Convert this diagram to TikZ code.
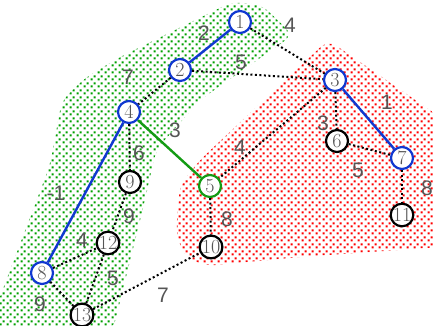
\documentclass[tikz,border=0pt]{standalone}
\usepackage{fontspec}
\newfontfamily\wfont{Liberation Sans}
\usetikzlibrary{patterns.meta}

\definecolor{hullgreen}{RGB}{0,160,0}
\definecolor{hullred}{RGB}{255,0,0}
\definecolor{treeblue}{RGB}{16,56,208}
\definecolor{matchgreen}{RGB}{20,155,20}
\definecolor{labgray}{RGB}{85,85,85}

% staggered dot fill for the two clusters
\tikzdeclarepattern{
  name=hulldots,
  type=uncolored,
  bounding box={(0,0) and (7pt,7pt)},
  tile size={(7pt,7pt)},
  code={
    \fill (0.65pt,0.65pt) rectangle (2.85pt,2.85pt);
    \fill (4.15pt,4.15pt) rectangle (6.35pt,6.35pt);
  }
}

\begin{document}
\begin{tikzpicture}[x=1pt, y=-1pt,
  vtx/.style={circle, draw=black, line width=2.2pt, fill=white, minimum size=22pt, inner sep=0pt,
    text=labgray, font=\fontsize{20}{20}\selectfont},
  tree/.style={vtx, draw=treeblue},
  hit/.style={vtx, draw=matchgreen},
  wt/.style={text=labgray, inner sep=0pt, font=\wfont\fontsize{21}{21}\selectfont},
  plain/.style={draw=black, line width=2pt, dash pattern=on 2pt off 2.5pt},
  treeedge/.style={draw=treeblue, line width=2.4pt},
  matchedge/.style={draw=matchgreen, line width=2.4pt}]
\useasboundingbox (0,0) rectangle (433,325);

% clusters
\fill[pattern=hulldots, pattern color=hullgreen, rounded corners=10pt]
  (232,2) -- (262,5) -- (293,35) -- (200,100) -- (156,150) -- (145,200) -- (113,330)
  -- (-5,330) -- (-5,310) -- (50,165) -- (62,100) -- (85,78) -- (120,57) -- cycle;
\fill[pattern=hulldots, pattern color=hullred, rounded corners=10pt]
  (328,40) -- (440,117) -- (440,247) -- (300,257) -- (205,266) -- (184,256) -- (176,232)
  -- (180,185) -- (200,160) -- cycle;

% vertices
\node[tree] (n1) at (240,22) {1};
\node[tree] (n2) at (180,70) {2};
\node[tree] (n3) at (335,80) {3};
\node[tree] (n4) at (129,112) {4};
\node[hit]  (n5) at (210,186) {5};
\node[vtx]  (n6) at (337,141) {6};
\node[tree] (n7) at (402,158) {7};
\node[tree] (n8) at (42,273) {8};
\node[vtx]  (n9) at (130,182) {9};
\node[vtx]  (n10) at (211,247) {10};
\node[vtx]  (n11) at (402,215) {11};
\node[vtx]  (n12) at (108,243) {12};
\node[vtx]  (n13) at (82,315) {13};

% edges with weights
\foreach \a/\b/\w/\lx/\ly in {n1/n2/2/204/33, n3/n7/1/387/102, n4/n8/-1/56/193} {
  \draw[treeedge] (\a) -- (\b);
  \node[wt] at (\lx,\ly) {\w};
}
\draw[matchedge] (n4) -- (n5);
\node[wt] at (175,130) {3};
\foreach \a/\b/\w/\lx/\ly in {n1/n3/4/290/25, n2/n3/5/241/62, n2/n4/7/128/77, n3/n6/3/323/123,
    n3/n5/4/240/147, n4/n9/6/139/153, n6/n7/5/358/170, n7/n11/8/427/188, n5/n10/8/227/219,
    n9/n12/9/129/216, n8/n12/4/82/240, n12/n13/5/113/278, n8/n13/9/40/304, n13/n10/7/163/295} {
  \draw[plain] (\a) -- (\b);
  \node[wt] at (\lx,\ly) {\w};
}
\end{tikzpicture}
\end{document}
